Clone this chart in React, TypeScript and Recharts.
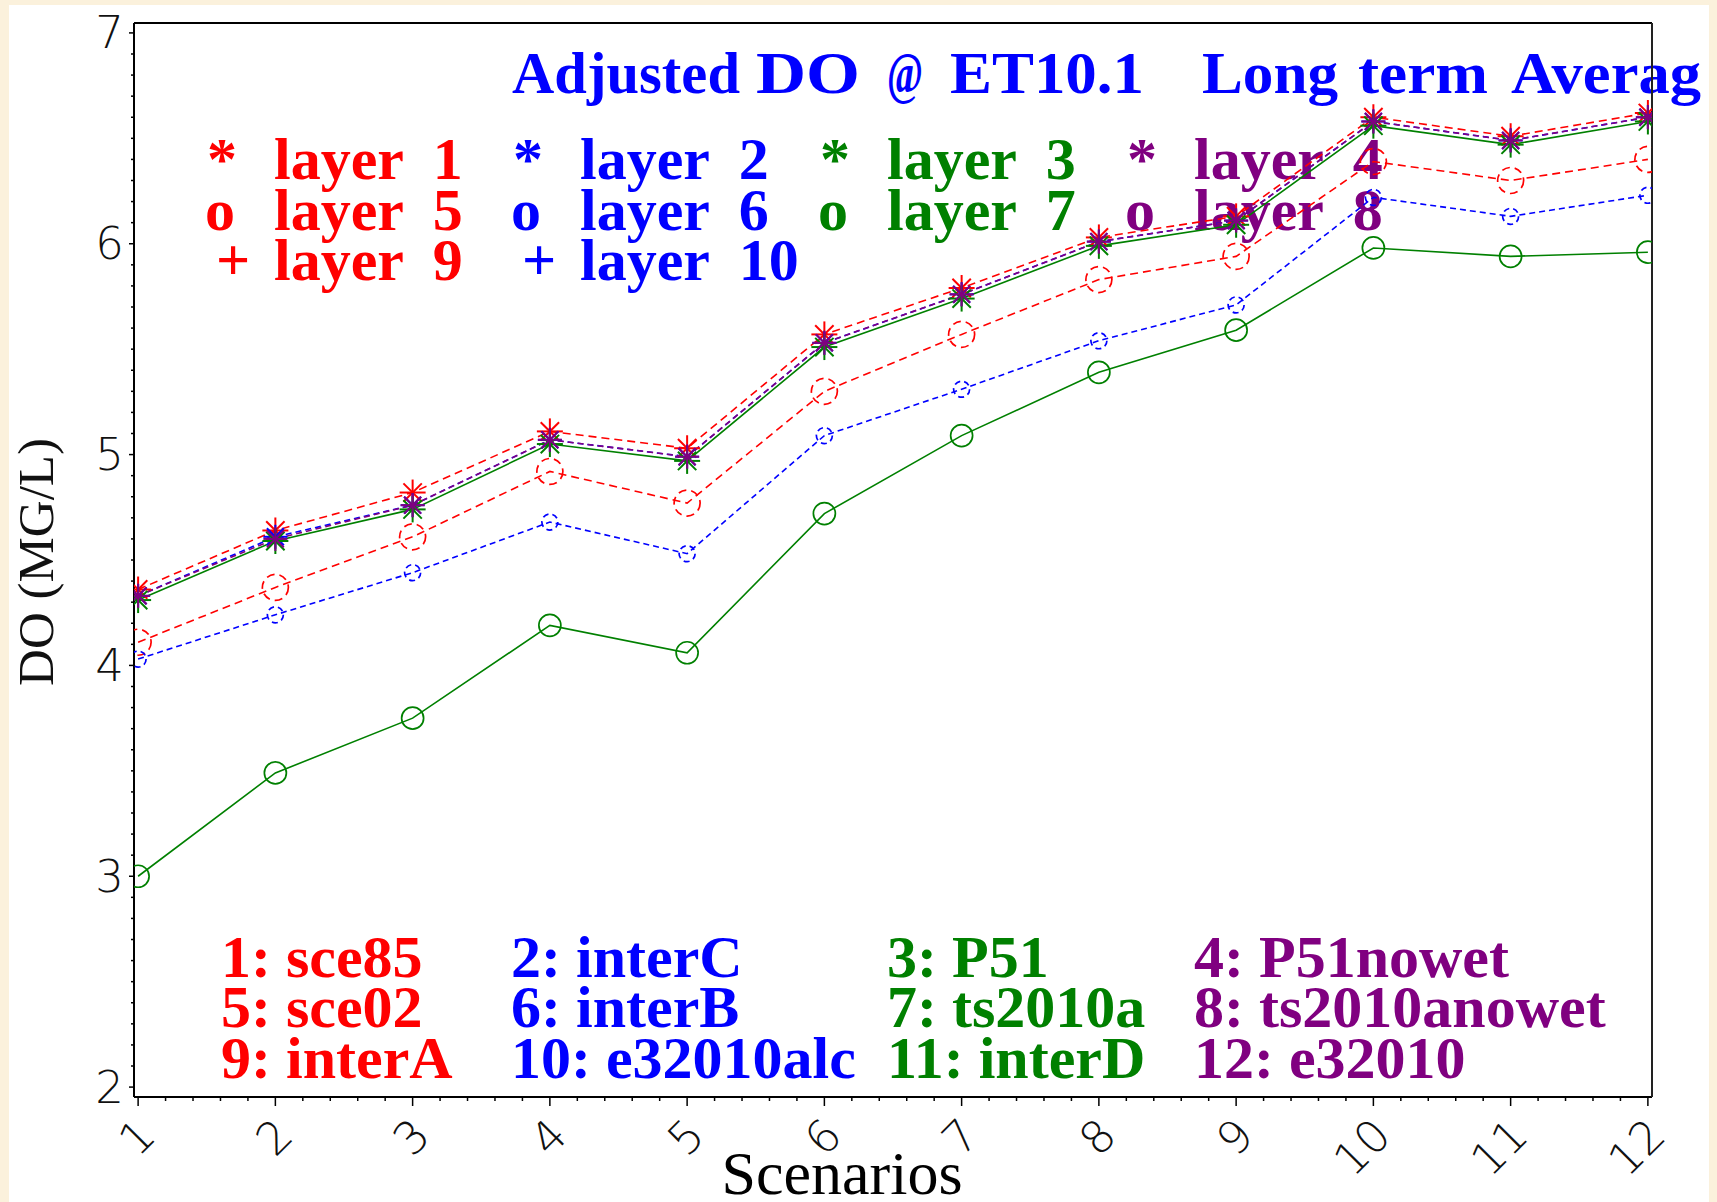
import React from 'react';
import { LineChart, Line, XAxis, YAxis } from 'recharts';

const scenarios = [1, 2, 3, 4, 5, 6, 7, 8, 9, 10, 11, 12];

// layers 1-4 (asterisks), 5-7 (circles)
const layer1 = [4.36, 4.64, 4.82, 5.11, 5.03, 5.57, 5.79, 6.03, 6.13, 6.6, 6.51, 6.62];
const layer2 = [4.33, 4.61, 4.76, 5.07, 4.99, 5.53, 5.76, 6.01, 6.11, 6.58, 6.49, 6.6];
const layer3 = [4.31, 4.59, 4.74, 5.05, 4.97, 5.51, 5.74, 5.99, 6.09, 6.56, 6.47, 6.58];
const layer4 = [4.33, 4.6, 4.76, 5.07, 4.99, 5.53, 5.76, 6.01, 6.11, 6.58, 6.49, 6.6];
const layer5 = [4.11, 4.37, 4.61, 4.92, 4.77, 5.3, 5.57, 5.83, 5.94, 6.39, 6.3, 6.4];
const layer6 = [4.03, 4.24, 4.44, 4.68, 4.53, 5.09, 5.31, 5.54, 5.71, 6.22, 6.13, 6.23];
const layer7 = [3.0, 3.49, 3.75, 4.19, 4.06, 4.72, 5.09, 5.39, 5.59, 5.98, 5.94, 5.96];

const yMajorTicks = [2, 3, 4, 5, 6, 7];
const xMajorTicks = scenarios;

const titleWords = ['Adjusted', 'DO', '@', 'ET10.1', 'Long', 'term', 'Averag'];
const layerSymbols = ['*', '*', '*', '*', 'o', 'o', 'o', 'o', '+', '+'];
const layerColors = ['#ff0000', '#0000ff', '#008000', '#800080'];
const scenarioNames = [
  'sce85', 'interC', 'P51', 'P51nowet',
  'sce02', 'interB', 'ts2010a', 'ts2010anowet',
  'interA', 'e32010alc', 'interD', 'e32010',
];

const RED = '#ff0000';
const BLUE = '#0000ff';
const GREEN = '#008000';
const PURPLE = '#800080';

// minor ticks: 0.1 on y, 0.2 on x
const yTicks: number[] = [];
yMajorTicks.forEach((t, i) => {
  if (i === yMajorTicks.length - 1) { yTicks.push(t); return; }
  for (let k = 0; k < 10; k++) yTicks.push(+(t + k / 10).toFixed(2));
});
const xTicks: number[] = [];
xMajorTicks.forEach((t, i) => {
  if (i === xMajorTicks.length - 1) { xTicks.push(t); return; }
  for (let k = 0; k < 5; k++) xTicks.push(+(t + k / 5).toFixed(2));
});

const data = scenarios.map((s, i) => ({
  x: s,
  l1: layer1[i], l2: layer2[i], l3: layer3[i], l4: layer4[i],
  l5: layer5[i], l6: layer6[i], l7: layer7[i],
}));

const isMajor = (v: number) => Math.abs(v - Math.round(v)) < 1e-6;
const tickFont = '"DejaVu Sans", sans-serif';
const serif = '"Liberation Serif", "Times New Roman", serif';

function XTick(props: any) {
  const { x, y, payload } = props;
  const major = isMajor(payload.value);
  const ax = x + 9;
  const ay = y + 30;
  return (
    <g>
      <line x1={x} x2={x} y1={y} y2={y + (major ? 9 : 4)} stroke="#000" strokeWidth={1.5} />
      {major && (
        <text
          x={ax} y={ay} transform={`rotate(-45 ${ax} ${ay})`}
          textAnchor="end" dominantBaseline="central"
          fontFamily={tickFont} fontWeight={200} fontSize={45} fill="#111"
        >
          {Math.round(payload.value)}
        </text>
      )}
    </g>
  );
}

function YTick(props: any) {
  const { x, y, payload } = props;
  const major = isMajor(payload.value);
  return (
    <g>
      <line x1={x - (major ? 5 : 3)} x2={x} y1={y} y2={y} stroke="#000" strokeWidth={1.5} />
      {major && (
        <text
          x={x - 10} y={y} textAnchor="end" dominantBaseline="central"
          fontFamily={tickFont} fontWeight={200} fontSize={45} fill="#111"
        >
          {Math.round(payload.value)}
        </text>
      )}
    </g>
  );
}

const starDot = (color: string, r: number) => (props: any) => {
  const { cx, cy, index } = props;
  if (cx == null || cy == null) return <g key={`e${index}`} />;
  const d = r * 0.707;
  return (
    <g key={`s${index}`} stroke={color} strokeWidth={2}>
      <line x1={cx - r} y1={cy} x2={cx + r} y2={cy} />
      <line x1={cx} y1={cy - r} x2={cx} y2={cy + r} />
      <line x1={cx - d} y1={cy - d} x2={cx + d} y2={cy + d} />
      <line x1={cx - d} y1={cy + d} x2={cx + d} y2={cy - d} />
    </g>
  );
};

const series = [
  { key: 'l1', color: RED, dash: '8 5', dot: starDot(RED, 13) },
  { key: 'l2', color: BLUE, dash: '6 4', dot: starDot(BLUE, 12) },
  { key: 'l3', color: GREEN, dash: undefined, dot: starDot(GREEN, 13) },
  { key: 'l4', color: PURPLE, dash: '6 4', dot: starDot(PURPLE, 12) },
  { key: 'l5', color: RED, dash: '8 5', dot: { r: 13, fill: 'none', stroke: RED, strokeWidth: 1.7 } },
  { key: 'l6', color: BLUE, dash: '6 4', dot: { r: 8, fill: 'none', stroke: BLUE, strokeWidth: 1.7 } },
  { key: 'l7', color: GREEN, dash: undefined, dot: { r: 11, fill: 'none', stroke: GREEN, strokeWidth: 1.7 } },
];

// title word positions / widths (the source spaces the words unevenly)
const titleX = [512, 756, 887, 950, 1202, 1358, 1511];
const titleW = [228, 104, 36, 194, 136, 130, 190];
const layerCols = [274, 580, 887, 1194];
const layerRows = [179, 230, 280];
const symbolOffset: Record<string, number> = { '*': -67, o: -69, '+': -58 };
const scenCols = [221, 511, 887, 1194];
const scenRows = [977, 1027, 1078];

function Annotations() {
  return (
    <svg width={1717} height={1202} style={{ position: 'absolute', left: 0, top: 0 }}>
      <g fontFamily={serif} fontWeight="bold" fontSize={59} fill={BLUE}>
        {titleWords.map((w, i) => (
          <text key={w} x={titleX[i]} y={93} textLength={titleW[i]} lengthAdjust="spacingAndGlyphs">
            {w}
          </text>
        ))}
      </g>
      {layerSymbols.map((sym, i) => {
        const col = i % 4;
        const row = Math.floor(i / 4);
        const color = layerColors[col];
        const x = layerCols[col];
        const y = layerRows[row];
        return (
          <g key={`lay${i}`} fill={color} fontFamily={serif} fontWeight="bold" fontSize={60}>
            <text x={x + symbolOffset[sym]} y={y}>{sym}</text>
            <text x={x} y={y} style={{ whiteSpace: 'pre' }}>{`layer  ${i + 1}`}</text>
          </g>
        );
      })}
      {scenarioNames.map((name, i) => {
        const col = i % 4;
        const row = Math.floor(i / 4);
        return (
          <text
            key={`sc${i}`} x={scenCols[col]} y={scenRows[row]} fill={layerColors[col]}
            fontFamily={serif} fontWeight="bold" fontSize={60}
          >
            {`${i + 1}: ${name}`}
          </text>
        );
      })}
      <text
        x={53} y={562} transform="rotate(-90 53 562)" textAnchor="middle"
        fontFamily={serif} fontSize={51} fill="#111"
      >
        DO (MG/L)
      </text>
      <text x={842} y={1194} textAnchor="middle" fontFamily={serif} fontSize={62} fill="#000">
        Scenarios
      </text>
    </svg>
  );
}

export default function App() {
  return (
    <div style={{ position: 'absolute', left: 0, top: 0, width: 1717, height: 1202, background: '#fbf1dc', overflow: 'hidden' }}>
      <div style={{ position: 'absolute', left: 9, top: 5, width: 1700, height: 1197, background: '#ffffff' }} />
      <Annotations />
      <div style={{ position: 'absolute', left: 0, top: 0 }}>
        <LineChart width={1717} height={1202} data={data} margin={{ top: 22, right: 64, bottom: 45, left: 64 }}>
          <XAxis
            xAxisId="b" type="number" dataKey="x" domain={[0.97, 12.03]} allowDataOverflow
            ticks={xTicks} interval={0} tickSize={0} tickMargin={0} tickLine={false}
            axisLine={{ stroke: '#000', strokeWidth: 2 }} tick={(p: any) => <XTick {...p} />} height={60}
          />
          <XAxis
            xAxisId="t" orientation="top" type="number" dataKey="x" domain={[0.97, 12.03]} allowDataOverflow
            tick={false} tickLine={false} axisLine={{ stroke: '#000', strokeWidth: 2 }} height={1}
          />
          <YAxis
            yAxisId="l" type="number" domain={[1.953, 7.047]} allowDataOverflow
            ticks={yTicks} interval={0} tickSize={0} tickMargin={0} tickLine={false}
            axisLine={{ stroke: '#000', strokeWidth: 2 }} tick={(p: any) => <YTick {...p} />} width={70}
          />
          <YAxis
            yAxisId="r" orientation="right" type="number" domain={[1.953, 7.047]} allowDataOverflow
            tick={false} tickLine={false} axisLine={{ stroke: '#222', strokeWidth: 2 }} width={1}
          />
          {series.map((s) => (
            <Line
              key={s.key} xAxisId="b" yAxisId="l" dataKey={s.key} type="linear"
              stroke={s.color} strokeWidth={1.6} strokeDasharray={s.dash}
              dot={s.dot as any} activeDot={false} isAnimationActive={false}
            />
          ))}
        </LineChart>
      </div>
    </div>
  );
}
